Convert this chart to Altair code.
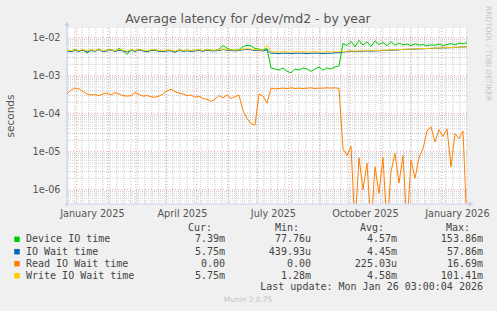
import altair as alt
import pandas as pd

# ---------------- data ----------------
START = "2024-12-22T03:00:00"
dates = [d.strftime("%Y-%m-%dT%H:%M:%S") for d in pd.date_range(START, periods=101, freq="4D")]

# values in milliseconds
device_ms = [4.6, 4.2, 5.0, 4.4, 4.9, 3.9, 4.8, 4.5, 5.1, 4.3,
             4.7, 4.9, 4.4, 5.2, 4.6, 3.6, 4.8, 4.5, 4.9, 4.6,
             4.2, 4.7, 4.8, 4.5, 4.3, 4.7, 4.6, 4.1, 4.8, 4.5,
             4.7, 4.4, 4.6, 4.8, 4.5, 4.9, 4.7, 4.6, 5.0, 6.2,
             5.3, 4.8, 4.7, 4.9, 5.8, 6.3, 6.1, 5.2, 5.0, 4.8,
             5.2, 1.6, 1.5, 1.4, 1.6, 1.3, 1.2, 1.5, 1.4, 1.6,
             1.5, 1.3, 1.5, 1.7, 1.4, 1.6, 1.5, 1.7, 1.8, 7.0,
             6.2, 8.0, 5.8, 8.5, 6.4, 7.8, 5.9, 8.3, 6.6, 7.5,
             6.1, 7.9, 6.3, 7.2, 6.5, 6.8, 6.2, 6.9, 6.4, 6.6,
             6.1, 6.5, 6.3, 6.8, 6.2, 6.6, 7.0, 6.4, 7.2, 6.9,
             7.39]
iowait_ms = [4.5, 4.3, 4.6, 4.4, 4.7, 4.2, 4.6, 4.4, 4.8, 4.3,
             4.5, 4.7, 4.4, 4.6, 4.5, 4.2, 4.6, 4.4, 4.7, 4.5,
             4.3, 4.6, 4.6, 4.4, 4.3, 4.5, 4.5, 4.2, 4.6, 4.4,
             4.5, 4.4, 4.5, 4.6, 4.4, 4.7, 4.5, 4.5, 4.6, 4.9,
             4.7, 4.6, 4.5, 4.6, 4.8, 4.9, 4.8, 4.6, 4.6, 4.5,
             4.8, 3.9, 3.9, 3.8, 3.9, 3.9, 3.8, 3.9, 3.9, 3.9,
             3.8, 3.9, 3.9, 3.9, 3.8, 3.9, 3.9, 4.0, 4.0, 4.2,
             4.3, 4.4, 4.3, 4.4, 4.4, 4.5, 4.4, 4.5, 4.5, 4.6,
             4.6, 4.7, 4.7, 4.8, 4.9, 4.9, 5.0, 5.0, 5.1, 5.1,
             5.2, 5.2, 5.3, 5.3, 5.4, 5.4, 5.5, 5.5, 5.6, 5.7,
             5.75]
read_ms = [0.33, 0.42, 0.47, 0.45, 0.38, 0.33, 0.31, 0.32, 0.30, 0.33,
           0.35, 0.31, 0.36, 0.33, 0.30, 0.29, 0.30, 0.36, 0.32, 0.29,
           0.30, 0.28, 0.27, 0.29, 0.33, 0.40, 0.44, 0.38, 0.35, 0.33,
           0.30, 0.31, 0.27, 0.29, 0.25, 0.24, 0.21, 0.24, 0.30, 0.26,
           0.31, 0.25, 0.28, 0.31, 0.12, 0.075, 0.055, 0.05, 0.33, 0.29,
           0.19, 0.47, 0.45, 0.46, 0.47, 0.46, 0.48, 0.46, 0.47, 0.46,
           0.47, 0.48, 0.46, 0.47, 0.47, 0.48, 0.47, 0.48, 0.46, 0.012,
           0.008, 0.014, 0, 0.007, 0.001, 0.005, 0, 0.004, 0.0008, 0.007,
           0, 0.003, 0.009, 0.0015, 0.008, 0, 0.006, 0.002, 0.007, 0.012,
           0.035, 0.045, 0.018, 0.038, 0.025, 0.04, 0.004, 0.03, 0.022, 0.035,
           0]
write_ms = [4.7, 4.5, 4.8, 4.6, 4.9, 4.5, 4.8, 4.6, 4.9, 4.5,
            4.7, 4.8, 4.6, 4.9, 4.7, 4.4, 4.8, 4.6, 4.9, 4.7,
            4.5, 4.8, 4.8, 4.6, 4.5, 4.7, 4.7, 4.4, 4.8, 4.6,
            4.7, 4.6, 4.7, 4.8, 4.6, 4.9, 4.7, 4.7, 4.8, 5.0,
            4.9, 4.8, 4.7, 4.8, 5.0, 5.1, 5.0, 4.8, 4.8, 4.7,
            6.4, 4.3, 4.2, 4.2, 4.3, 4.2, 4.2, 4.3, 4.2, 4.3,
            4.2, 4.2, 4.3, 4.2, 4.2, 4.3, 4.2, 4.3, 4.3, 4.3,
            4.4, 4.5, 4.4, 4.5, 4.5, 4.6, 4.5, 4.6, 4.6, 4.7,
            4.7, 4.8, 4.8, 4.9, 4.9, 5.0, 5.0, 5.1, 5.1, 5.2,
            5.2, 5.3, 5.3, 5.4, 5.4, 5.5, 5.5, 5.6, 5.6, 5.7,
            5.75]

series_names = ["Device IO time", "IO Wait time", "Read IO Wait time", "Write IO Wait time"]
series_fields = ["device", "iowait", "read", "write"]
series_colors = ["#00CC00", "#0066B3", "#FF8000", "#FFCC00"]
cur_vals = ["7.39m", "5.75m", "0.00", "5.75m"]
min_vals = ["77.76u", "439.93u", "0.00", "1.28m"]
avg_vals = ["4.57m", "4.45m", "225.03u", "4.58m"]
max_vals = ["153.86m", "57.86m", "16.69m", "101.41m"]
headers = ["Cur:", "Min:", "Avg:", "Max:"]

title_text = "Average latency for /dev/md2 - by year"
y_title = "seconds"
last_update = "Last update: Mon Jan 26 03:00:04 2026"
footer = "Munin 2.0.75"
watermark = "RRDTOOL / TOBI OETIKER"

y_major = [1e-2, 1e-3, 1e-4, 1e-5, 1e-6]
x_label_dates = [(2025, 1, 16), (2025, 4, 16), (2025, 7, 16), (2025, 10, 16), (2026, 1, 16)]

# ---------------- layout / style ----------------
L, T, W, H = 67, 28, 400, 176
BG = "#F0F0F0"
AXIS_C = "#C8CEEA"
GRID_MAJOR = "#E6A0A0"
GRID_MINOR = "#CCCCCC"
TXT = "#555555"
LEG = "#444444"

xscale = alt.Scale(domain=[alt.DateTime(year=2024, month=12, date=22, hours=3),
                           alt.DateTime(year=2026, month=1, date=26, hours=3)], nice=False)
yscale = alt.Scale(type="log", domain=[4.2e-7, 1.8e-2], nice=False)

xaxis = alt.Axis(values=[alt.DateTime(year=y, month=m, date=d) for (y, m, d) in x_label_dates],
                 format="%B %Y", labelFont="DejaVu Sans", labelFontSize=9.7, labelColor=TXT,
                 ticks=False, grid=False, domain=False, labelPadding=4, title=None,
                 labelOverlap=False, labelFlush=False)
yaxis = alt.Axis(values=y_major, labelExpr="'1e-0' + round(-log(datum.value) / LN10)",
                 labelFont="DejaVu Sans", labelFontSize=9.7, labelColor=TXT,
                 ticks=False, grid=False, domain=False, labelPadding=7, title=None)

df = pd.DataFrame({"date": dates, "device": device_ms, "iowait": iowait_ms,
                   "read": read_ms, "write": write_ms})

month_lines = [d.strftime("%Y-%m-%dT%H:%M:%S") for d in pd.date_range("2025-01-01", "2026-01-01", freq="MS")]
week_lines = [d.strftime("%Y-%m-%dT%H:%M:%S") for d in pd.date_range("2024-12-23", "2026-01-26", freq="W-MON")]
y_minor = [k * 10.0 ** n for n in range(-7, -1) for k in range(2, 10) if 4.2e-7 <= k * 10.0 ** n <= 1.8e-2]

one = alt.Data(values=[{"a": 1}])


def txt(s, x, y, **kw):
    return alt.Chart(alt.Data(values=[{"t": s}])).mark_text(**kw).encode(
        x=alt.value(x - L), y=alt.value(y - T), text="t:N")


layers = []
# grid
layers.append(alt.Chart(alt.Data(values=[{"d": d} for d in week_lines])).mark_rule(
    color=GRID_MINOR, strokeDash=[1, 1], strokeWidth=1).encode(x=alt.X("d:T", scale=xscale, axis=xaxis)))
layers.append(alt.Chart(alt.Data(values=[{"v": v} for v in y_minor])).mark_rule(
    color=GRID_MINOR, strokeDash=[1, 1], strokeWidth=1).encode(y=alt.Y("v:Q", scale=yscale, axis=yaxis)))
layers.append(alt.Chart(alt.Data(values=[{"d": d} for d in month_lines])).mark_rule(
    color=GRID_MAJOR, strokeDash=[1, 2], strokeWidth=1).encode(x=alt.X("d:T", scale=xscale, axis=xaxis)))
layers.append(alt.Chart(alt.Data(values=[{"v": v} for v in y_major])).mark_rule(
    color=GRID_MAJOR, strokeDash=[1, 2], strokeWidth=1).encode(y=alt.Y("v:Q", scale=yscale, axis=yaxis)))

# data lines
for f, c in zip(series_fields, series_colors):
    layers.append(alt.Chart(df).transform_calculate(
        v=f"max(datum['{f}'], 0.0001) / 1000").mark_line(
        color=c, strokeWidth=1, clip=True).encode(
        x=alt.X("date:T", scale=xscale, axis=xaxis),
        y=alt.Y("v:Q", scale=yscale, axis=yaxis)))

# axis lines with arrows
layers.append(alt.Chart(one).mark_rule(color=AXIS_C, strokeWidth=1).encode(
    x=alt.value(0), y=alt.value(-3), y2=alt.value(H + 2)))
layers.append(alt.Chart(one).mark_rule(color=AXIS_C, strokeWidth=1).encode(
    y=alt.value(H), x=alt.value(-2), x2=alt.value(W + 3)))
layers.append(alt.Chart(one).mark_point(shape="triangle-up", filled=True, size=28, color=AXIS_C, opacity=1).encode(
    x=alt.value(0), y=alt.value(-4)))
layers.append(alt.Chart(one).mark_point(shape="triangle-right", filled=True, size=28, color=AXIS_C, opacity=1).encode(
    x=alt.value(W + 4), y=alt.value(H)))

# titles
layers.append(txt(title_text, 248, 19, font="DejaVu Sans", fontSize=12.5, color=TXT, align="center", baseline="middle"))
layers.append(txt(y_title, 11, 116, font="DejaVu Sans", fontSize=10.5, color=TXT, align="center", baseline="middle", angle=270))
layers.append(txt(watermark, 488, 6, font="DejaVu Sans", fontSize=7.4, color="#C4C4C4", align="left", baseline="middle", angle=90))

# legend
header_x = [212, 299, 384, 470]
col_x = [225, 311, 397, 483]
row_y = [239.3, 251.7, 263.7, 275.7]
for hx, h in zip(header_x, headers):
    layers.append(txt(h, hx, 228.3, font="DejaVu Sans Mono", fontSize=10, color=LEG, align="right", baseline="middle"))
for r in range(4):
    layers.append(alt.Chart(one).mark_square(size=30, color=series_colors[r], opacity=1).encode(
        x=alt.value(17 - L), y=alt.value(row_y[r] - T)))
    layers.append(txt(series_names[r], 26, row_y[r], font="DejaVu Sans Mono", fontSize=10, color=LEG, align="left", baseline="middle"))
    for cx, vals in zip(col_x, [cur_vals, min_vals, avg_vals, max_vals]):
        s = vals[r]
        if s[-1].isdigit():
            s = s + "\u00a0"
        layers.append(txt(s, cx, row_y[r], font="DejaVu Sans Mono", fontSize=10, color=LEG, align="right", baseline="middle"))
layers.append(txt(last_update, 483, 287.3, font="DejaVu Sans Mono", fontSize=10, color=LEG, align="right", baseline="middle"))
layers.append(txt(footer, 248, 300, font="DejaVu Sans", fontSize=7.4, color="#C4C4C4", align="center", baseline="middle"))

chart = alt.layer(*layers).properties(
    width=W, height=H, background=BG,
    padding={"left": L, "top": T, "right": 497 - L - W, "bottom": 311 - T - H},
    autosize=alt.AutoSizeParams(type="none"),
).configure_view(stroke=None, fill="#FFFFFF")

chart.save("out.html", embed_options={"renderer": "svg", "actions": False})
